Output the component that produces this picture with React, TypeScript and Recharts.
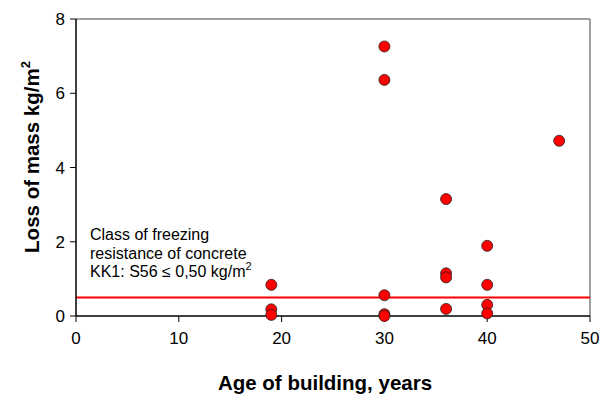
import { ScatterChart, Scatter, XAxis, YAxis, ReferenceLine } from 'recharts'

const ages = [19, 19, 19, 30, 30, 30, 30, 30, 36, 36, 36, 36, 40, 40, 40, 40, 47]
const losses = [0.84, 0.18, 0.03, 7.26, 6.36, 0.56, 0.05, 0.0, 3.15, 1.15, 1.04, 0.19, 1.89, 0.84, 0.3, 0.07, 4.72]
const xTicks = [0, 10, 20, 30, 40, 50]
const yTicks = [0, 2, 4, 6, 8]
const limit = 0.5

const font = '"Liberation Sans", Arial, sans-serif'

const points = ages.map((age, i) => ({ age, loss: losses[i] }))

const Dot = (props: any) => (
  <circle cx={props.cx} cy={props.cy} r={5.5} fill="#ff0000" stroke="#222" strokeWidth={0.8} />
)

export default function App() {
  const tick = { fill: '#000', fontSize: 17, fontFamily: font }
  return (
    <div style={{ position: 'absolute', left: 0, top: 0, width: 602, height: 397, background: '#fff', fontFamily: font }}>
      <ScatterChart width={602} height={397} margin={{ top: 19, right: 12, left: 0, bottom: 0 }}>
        <XAxis
          type="number"
          dataKey="age"
          domain={[0, 50]}
          ticks={xTicks}
          height={81}
          tick={tick}
          tickSize={6}
          tickMargin={10}
          axisLine={{ stroke: '#000', strokeWidth: 1.5 }}
          tickLine={{ stroke: '#000' }}
        />
        <YAxis
          type="number"
          dataKey="loss"
          domain={[0, 8]}
          ticks={yTicks}
          width={76}
          tick={tick}
          tickSize={6}
          tickMargin={5}
          axisLine={{ stroke: '#000', strokeWidth: 1.5 }}
          tickLine={{ stroke: '#000' }}
        />
        <ReferenceLine y={8} stroke="#808080" strokeWidth={1.5} />
        <ReferenceLine x={50} stroke="#808080" strokeWidth={1.5} />
        <ReferenceLine y={limit} stroke="#ff0000" strokeWidth={2} />
        <Scatter data={points} shape={Dot} isAnimationActive={false} />
      </ScatterChart>

      <div style={{ position: 'absolute', left: 90, top: 226, fontSize: 16, lineHeight: '18.5px', color: '#000' }}>
        Class of freezing<br />
        resistance of concrete<br />
        KK1: S56 ≤ 0,50 kg/m<sup style={{ fontSize: 11, verticalAlign: 7, lineHeight: 0 }}>2</sup>
      </div>

      <div style={{ position: 'absolute', left: 0, top: 372, width: 650, textAlign: 'center', fontSize: 20.5, fontWeight: 'bold', lineHeight: '22px' }}>
        Age of building, years
      </div>

      <div
        style={{
          position: 'absolute',
          left: 32,
          top: 157,
          transform: 'translate(-50%, -50%) rotate(-90deg)',
          whiteSpace: 'nowrap',
          fontSize: 20.5,
          fontWeight: 'bold',
          lineHeight: '22px',
        }}
      >
        Loss of mass kg/m<sup style={{ fontSize: 13, verticalAlign: 9, lineHeight: 0 }}>2</sup>
      </div>
    </div>
  )
}
